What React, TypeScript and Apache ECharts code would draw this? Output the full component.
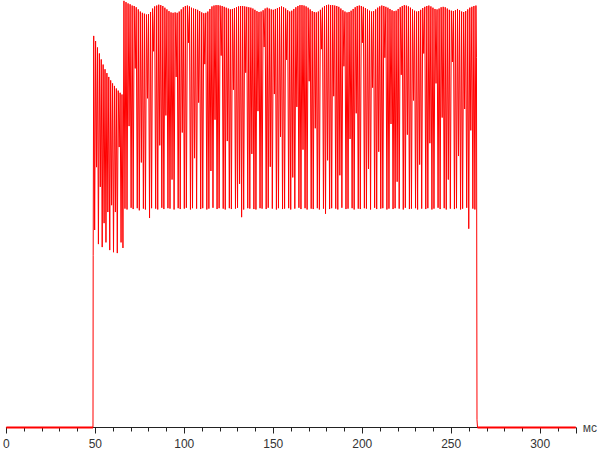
import React, { useEffect, useRef } from "react";
import * as echarts from "echarts";

// x axis (ms)
const xMin = 0;
const xMax = 320;
const xInterval = 50;
const xUnit = "мс";

// phase boundaries (ms)
const riseStart = 48.7;
const riseMid = 40.2; // level of first partial sample on the rise
const phase2Start = 49.1;
const phase2Period = 1.06;
const phase3Start = 66.1;
const phase3Period = 1.15;

// phase 2: decaying peaks with deep troughs
const phase2Peaks = [91.6, 90.4, 88.9, 87.5, 86.1, 84.9, 83.8, 82.9, 82.0, 81.2, 80.5, 79.9, 79.3, 78.8, 78.3, 77.9];
const phase2Troughs = [46.2, 60.9, 42.9, 56.3, 42.2, 47.8, 43.3, 50.4, 41.5, 52.0, 41.0, 50.4, 40.8, 65.6, 43.3, 42.0];

// phase 3: steady pulsing
const phase3Peaks = [
  99.8, 99.5, 99.2, 99.0, 98.7,
  98.6, 98.3, 97.8, 97.3,
  97.0, 96.8, 96.6, 96.7, 97.2,
  98.0, 98.5, 98.7, 98.9, 98.8, 98.6,
  98.2, 97.8, 97.4, 97.1, 97.0, 97.1,
  97.0, 97.3, 97.8, 98.3, 98.6, 98.7, 98.5,
  98.2, 98.0, 97.9, 97.7, 97.4,
  97.1, 96.9, 97.0, 97.3, 97.9,
  98.5, 98.7, 98.8, 98.8, 98.7, 98.6, 98.4, 98.2,
  98.0, 97.8, 97.9, 98.1, 98.3, 98.5,
  98.6, 98.6, 98.5, 98.4, 98.3, 98.2, 98.0,
  97.7, 97.4, 97.2, 97.3, 97.6, 98.0,
  98.2, 98.0, 97.8, 97.7, 97.9, 98.1, 98.3,
  98.5, 98.3, 98.0, 97.6, 97.3, 97.5, 97.9,
  98.3, 98.6, 98.8, 98.8, 98.7, 98.5, 98.2,
  97.8, 97.4, 97.2, 97.1, 97.3, 97.7, 98.2,
  98.6, 98.8, 98.9, 98.8, 98.8, 98.7, 98.6, 98.4, 98.0,
  97.6, 97.3, 97.1, 97.2, 97.5, 97.9, 98.3,
  98.6, 98.7, 98.6, 98.4, 98.1, 97.8, 97.5,
  97.3, 97.4, 97.8, 98.2, 98.5, 98.7, 98.6,
  98.4, 98.2, 97.9, 97.6, 97.4, 97.5, 97.9,
  98.3, 98.6, 98.8, 98.7, 98.5, 98.2, 97.8,
  97.5, 97.3, 97.4, 97.7, 98.1, 98.4, 98.6,
  98.7, 98.5, 98.2, 97.9, 97.8, 98.0, 98.3,
  98.4, 98.3, 98.0, 97.7, 97.5, 97.4, 97.6,
  97.9, 97.6, 97.3, 97.2, 97.4, 97.8, 98.2,
  98.4, 98.6, 98.7,
];
const phase3Troughs = [
  51.2, 51.0, 70.5, 51.4, 51.1, 84.0, 51.3, 50.8, 62.0, 51.2,
  51.0, 77.0, 49.0, 51.3, 88.0, 51.2, 51.0, 66.0, 51.4, 51.1,
  73.0, 51.3, 51.2, 58.0, 51.0, 82.0, 51.3, 51.1, 69.0, 51.2,
  51.4, 90.0, 51.0, 51.3, 63.0, 51.2, 76.0, 51.1, 51.3, 85.0,
  51.0, 51.2, 60.0, 51.4, 72.0, 51.1, 51.3, 87.0, 51.2, 51.0,
  67.0, 51.3, 51.1, 79.0, 51.2, 51.4, 57.0, 49.2, 51.0, 83.0,
  51.3, 51.2, 64.0, 51.1, 51.0, 74.0, 51.3, 51.2, 89.0, 51.1,
  51.4, 61.0, 51.2, 78.0, 51.0, 51.3, 68.0, 51.1, 51.2, 86.0,
  51.3, 51.0, 58.5, 51.2, 75.0, 51.4, 51.1, 65.0, 51.3, 51.0,
  81.0, 51.2, 51.1, 70.0, 51.3, 51.0, 88.5, 51.2, 50.0, 62.5,
  51.1, 51.3, 77.5, 51.2, 51.0, 59.0, 51.4, 84.5, 51.1, 51.2,
  67.5, 51.3, 51.0, 73.5, 51.2, 51.1, 90.0, 51.3, 51.2, 60.5,
  51.0, 79.5, 51.4, 51.1, 64.5, 51.2, 51.3, 86.5, 51.0, 51.2,
  71.0, 51.1, 51.3, 57.5, 51.2, 82.5, 51.0, 51.4, 68.5, 51.1,
  51.2, 76.5, 51.3, 51.0, 61.5, 51.2, 87.5, 51.1, 51.3, 66.5,
  51.0, 51.2, 80.5, 51.4, 51.1, 72.5, 51.3, 51.0, 58.0, 51.2,
  85.5, 51.1, 51.3, 63.5, 51.0, 51.2, 74.5, 51.4, 46.5, 69.5,
  51.2, 51.0,
];

// fall at the end
const fallLevels = [86.6, 1.8, 0];
const fallOffsets = [0.3, 0.6, 0.9];

function lastPeakTime(): number {
  return phase3Start + (phase3Peaks.length - 1) * phase3Period;
}

function buildData(): [number, number][] {
  const pts: [number, number][] = [];
  pts.push([xMin, 0]);
  pts.push([riseStart, 0]);
  pts.push([riseStart + 0.1, riseMid]);
  phase2Peaks.forEach((p, i) => {
    const t = phase2Start + i * phase2Period;
    pts.push([t, p]);
    if (i < phase2Troughs.length) pts.push([t + phase2Period / 2, phase2Troughs[i]]);
  });
  phase3Peaks.forEach((p, i) => {
    const t = phase3Start + i * phase3Period;
    pts.push([t, p]);
    if (i < phase3Troughs.length) pts.push([t + phase3Period / 2, phase3Troughs[i]]);
  });
  const last = lastPeakTime();
  fallLevels.forEach((v, i) => pts.push([last + fallOffsets[i], v]));
  pts.push([xMax, 0]);
  return pts;
}

// the zero-level stretches before the rise and after the fall
function buildBaseline(): ([number, number] | [string, string])[] {
  const end = lastPeakTime() + fallOffsets[fallOffsets.length - 1];
  return [[xMin, 0], [riseStart, 0], ["-", "-"], [end, 0], [xMax, 0]];
}

export default function App() {
  const ref = useRef<HTMLDivElement>(null);
  useEffect(() => {
    if (!ref.current) return;
    const chart = echarts.init(ref.current, null, { renderer: "svg" });
    chart.setOption({
      animation: false,
      backgroundColor: "#ffffff",
      grid: { left: 3.3, right: 23.3, top: 0, bottom: 24.5, containLabel: false },
      xAxis: {
        type: "value",
        z: 0,
        min: xMin,
        max: xMax,
        interval: xInterval,
        name: xUnit,
        nameLocation: "end",
        nameGap: 7,
        nameTextStyle: { color: "#444", fontSize: 12, fontFamily: "Liberation Sans", verticalAlign: "middle" },
        axisLine: { show: true, onZero: false, lineStyle: { color: "#222", width: 1 } },
        axisTick: { show: true, length: 6, lineStyle: { color: "#222" } },
        minorTick: { show: true, splitNumber: 5, length: 4, lineStyle: { color: "#222" } },
        splitLine: { show: false },
        minorSplitLine: { show: false },
        axisLabel: { color: "#333", fontSize: 12, fontFamily: "Liberation Sans", margin: 10, showMaxLabel: false },
      },
      yAxis: { type: "value", min: 0, max: 100, show: false, splitLine: { show: false } },
      series: [
        {
          type: "line",
          data: buildData(),
          showSymbol: false,
          symbol: "none",
          clip: false,
          zlevel: 1,
          z: 10,
          lineStyle: { color: "#ff0000", width: 1 },
          silent: true,
        },
        {
          type: "line",
          data: buildBaseline(),
          showSymbol: false,
          symbol: "none",
          clip: false,
          connectNulls: false,
          zlevel: 1,
          z: 11,
          lineStyle: { color: "#ff0000", width: 2 },
          silent: true,
        },
      ],
    });
    return () => chart.dispose();
  }, []);
  return <div ref={ref} style={{ width: 600, height: 452, position: "absolute", left: 0, top: 0 }} />;
}
